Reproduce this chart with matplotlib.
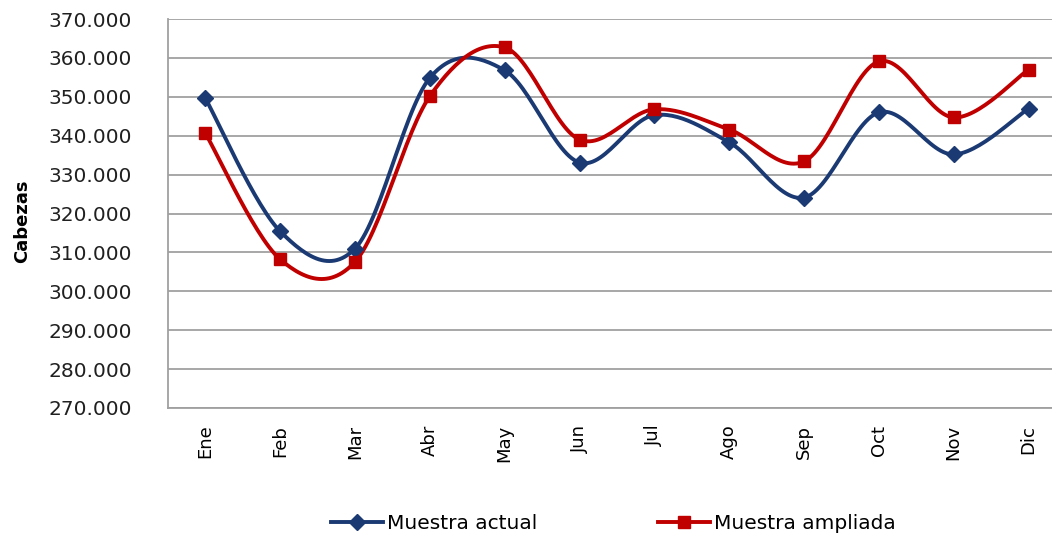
import numpy as np
import matplotlib
matplotlib.use("Agg")
import matplotlib.pyplot as plt
from matplotlib.ticker import FuncFormatter

# monthly head counts (cabezas)
months = ["Ene", "Feb", "Mar", "Abr", "May", "Jun", "Jul", "Ago", "Sep", "Oct", "Nov", "Dic"]
muestra_actual = [349600, 315400, 311000, 354900, 356800, 333100, 345300, 338300, 324100, 346000, 335200, 347000]
muestra_ampliada = [340600, 308200, 307600, 350200, 362700, 339000, 346800, 341600, 333400, 359100, 344700, 357000]


def smooth(xs, ys, n=30):
    # Bezier smoothing through the points, the way spreadsheet "smoothed lines" do
    xs = np.asarray(xs, float)
    ys = np.asarray(ys, float)
    px = np.concatenate([[xs[0]], xs, [xs[-1]]])
    py = np.concatenate([[ys[0]], ys, [ys[-1]]])
    outx, outy = [], []
    t = np.linspace(0, 1, n)
    for i in range(1, len(xs)):
        p0 = np.array([px[i], py[i]])
        p3 = np.array([px[i + 1], py[i + 1]])
        c1 = p0 + (p3 - np.array([px[i - 1], py[i - 1]])) / 6.0
        c2 = p3 - (np.array([px[i + 2], py[i + 2]]) - p0) / 6.0
        b = ((1 - t) ** 3)[:, None] * p0 + (3 * (1 - t) ** 2 * t)[:, None] * c1 \
            + (3 * (1 - t) * t ** 2)[:, None] * c2 + (t ** 3)[:, None] * p3
        outx.extend(b[:, 0])
        outy.extend(b[:, 1])
    return np.array(outx), np.array(outy)


fig = plt.figure(figsize=(10.52, 5.35), dpi=100)
ax = fig.add_axes([0.1597, 0.2374, 0.8536, 0.727])

x = np.arange(len(months))
blue = "#1B3A73"
red = "#C00000"

for vals, col, mk, ms, lab in [(muestra_actual, blue, "D", 8, "Muestra actual"),
                                (muestra_ampliada, red, "s", 8, "Muestra ampliada")]:
    sx, sy = smooth(x, vals)
    ax.plot(sx, sy, color=col, lw=2.8, zorder=3)
    ax.plot(x, vals, linestyle="none", marker=mk, ms=ms, color=col, zorder=4)
    ax.plot([], [], color=col, lw=2.8, marker=mk, ms=ms, label=lab)

ax.set_xlim(-0.5, len(months) - 0.5)
ax.set_ylim(270000, 370000)
ax.set_yticks(np.arange(270000, 370001, 10000))
ax.yaxis.set_major_formatter(FuncFormatter(lambda v, p: f"{int(v):,}".replace(",", ".")))
ax.set_xticks(x)
ax.set_xticklabels(months, rotation=90, fontsize=13)
ax.tick_params(axis="y", labelsize=14.5, length=0, pad=26)
ax.tick_params(axis="x", length=0, pad=12)
for lbl in ax.get_yticklabels():
    lbl.set_color("#202020")

ax.grid(axis="y", color="#A0A0A0", lw=1.3)
ax.set_axisbelow(True)
for s in ["top", "right"]:
    ax.spines[s].set_visible(False)
for s in ["left", "bottom"]:
    ax.spines[s].set_color("#A0A0A0")
    ax.spines[s].set_linewidth(1.3)

fig.text(0.021, 0.587, "Cabezas", rotation=90, fontsize=13, fontweight="bold", ha="center", va="center")

fig.legend(loc="center", bbox_to_anchor=(0.583, 0.022), ncol=2, frameon=False, fontsize=14.5,
           handlelength=2.6, columnspacing=6.0, handletextpad=0.2)

fig.savefig("out.png", dpi=100)
